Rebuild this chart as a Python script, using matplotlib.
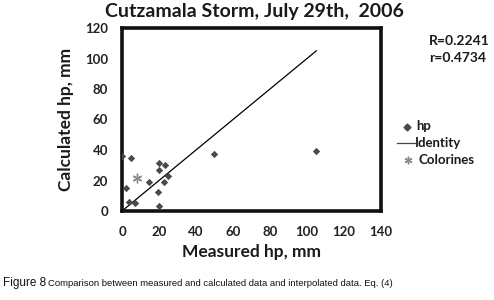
import matplotlib
matplotlib.use("Agg")
import matplotlib.pyplot as plt
from matplotlib.lines import Line2D

measured = [0, 4.9, 49.9, 104.7, 20, 23.2, 20, 24.7, 14.6, 22.9, 2.2, 19.3, 4, 7, 20]
calculated = [35.8, 34.7, 37.4, 39.5, 31.4, 30.3, 27.2, 23.1, 18.7, 18.7, 15.2, 12.7, 6.1, 5.1, 3.5]
identity = [0, 105]
colorines_x = [7.9]
colorines_y = [21.6]
xticks = [0, 20, 40, 60, 80, 100, 120, 140]
yticks = [0, 20, 40, 60, 80, 100, 120]
legend_labels = ['hp', 'Identity', 'Colorines']

fam = ['Lato', 'DejaVu Sans']
fig = plt.figure(figsize=(4.94, 3.0), dpi=100)
ax = fig.add_axes([122/494, 1-211/300, (381-122)/494, (211-28)/300])

ax.plot(identity, identity, color='black', lw=0.9, zorder=2)
ax.scatter(measured, calculated, marker='D', s=14, color='#4a4a4a', zorder=3, linewidths=0)
ax.scatter(colorines_x, colorines_y, marker=(6, 2, 0), s=40, color='#8a8a8a', linewidths=1.0, zorder=3)

ax.set_xlim(0, 140)
ax.set_ylim(0, 120)
ax.set_xticks(xticks)
ax.set_yticks(yticks)
ax.tick_params(axis='x', length=0, pad=11)
ax.tick_params(axis='y', length=0, pad=10)
for lab in ax.get_xticklabels() + ax.get_yticklabels():
    lab.set_fontfamily(fam)
    lab.set_fontweight('bold')
    lab.set_fontsize(9.5)
    lab.set_color('#222222')
for s in ax.spines.values():
    s.set_linewidth(2.6)
    s.set_color('#111111')

fig.text(254/494, 1-11/300, 'Cutzamala Storm, July 29th,  2006', family=fam, fontweight='bold',
         fontsize=14, color='#1a1a1a', ha='center', va='center')
ax.set_xlabel('Measured hp, mm', family=fam, fontweight='bold', fontsize=12.5,
              color='#1a1a1a', labelpad=4)
ax.set_ylabel('Calculated hp, mm', family=fam, fontweight='bold', fontsize=12.5,
              color='#1a1a1a', labelpad=8)

fig.text(429/494, 1-41/300, 'R=0.2241', family=fam, fontweight='bold', fontsize=10,
         ha='left', va='center', color='#1a1a1a')
fig.text(429/494, 1-58/300, 'r=0.4734', family=fam, fontweight='bold', fontsize=10,
         ha='left', va='center', color='#1a1a1a')

# manual legend
lp = dict(family=fam, fontweight='bold', fontsize=9.5, color='#1a1a1a', va='center', ha='left')
fig.add_artist(Line2D([407/494], [1-127/300], marker='D', ls='none', color='#4a4a4a',
                      markersize=3.5, transform=fig.transFigure))
fig.text(416/494, 1-126/300, legend_labels[0], **lp)
fig.add_artist(Line2D([397/494, 415/494], [1-143/300, 1-143/300], color='#5a3a3a', lw=0.9,
                      transform=fig.transFigure))
fig.text(415/494, 1-143/300, legend_labels[1], **lp)
fig.add_artist(Line2D([408/494], [1-160/300], marker=(6, 2, 0), ls='none', color='#8a8a8a',
                      markersize=5.5, markeredgewidth=1.0, transform=fig.transFigure))
fig.text(418/494, 1-160/300, legend_labels[2], **lp)

fig.text(3/494, 1-283/300, 'Figure 8', family=['Liberation Sans'], fontsize=8.5,
         va='center', ha='left', color='#111111')
fig.text(48/494, 1-284/300, 'Comparison between measured and calculated data and interpolated data. Eq. (4)',
         family=['Liberation Sans'], fontsize=6.8, va='center', ha='left', color='#111111')

fig.savefig('out.png', dpi=100)
